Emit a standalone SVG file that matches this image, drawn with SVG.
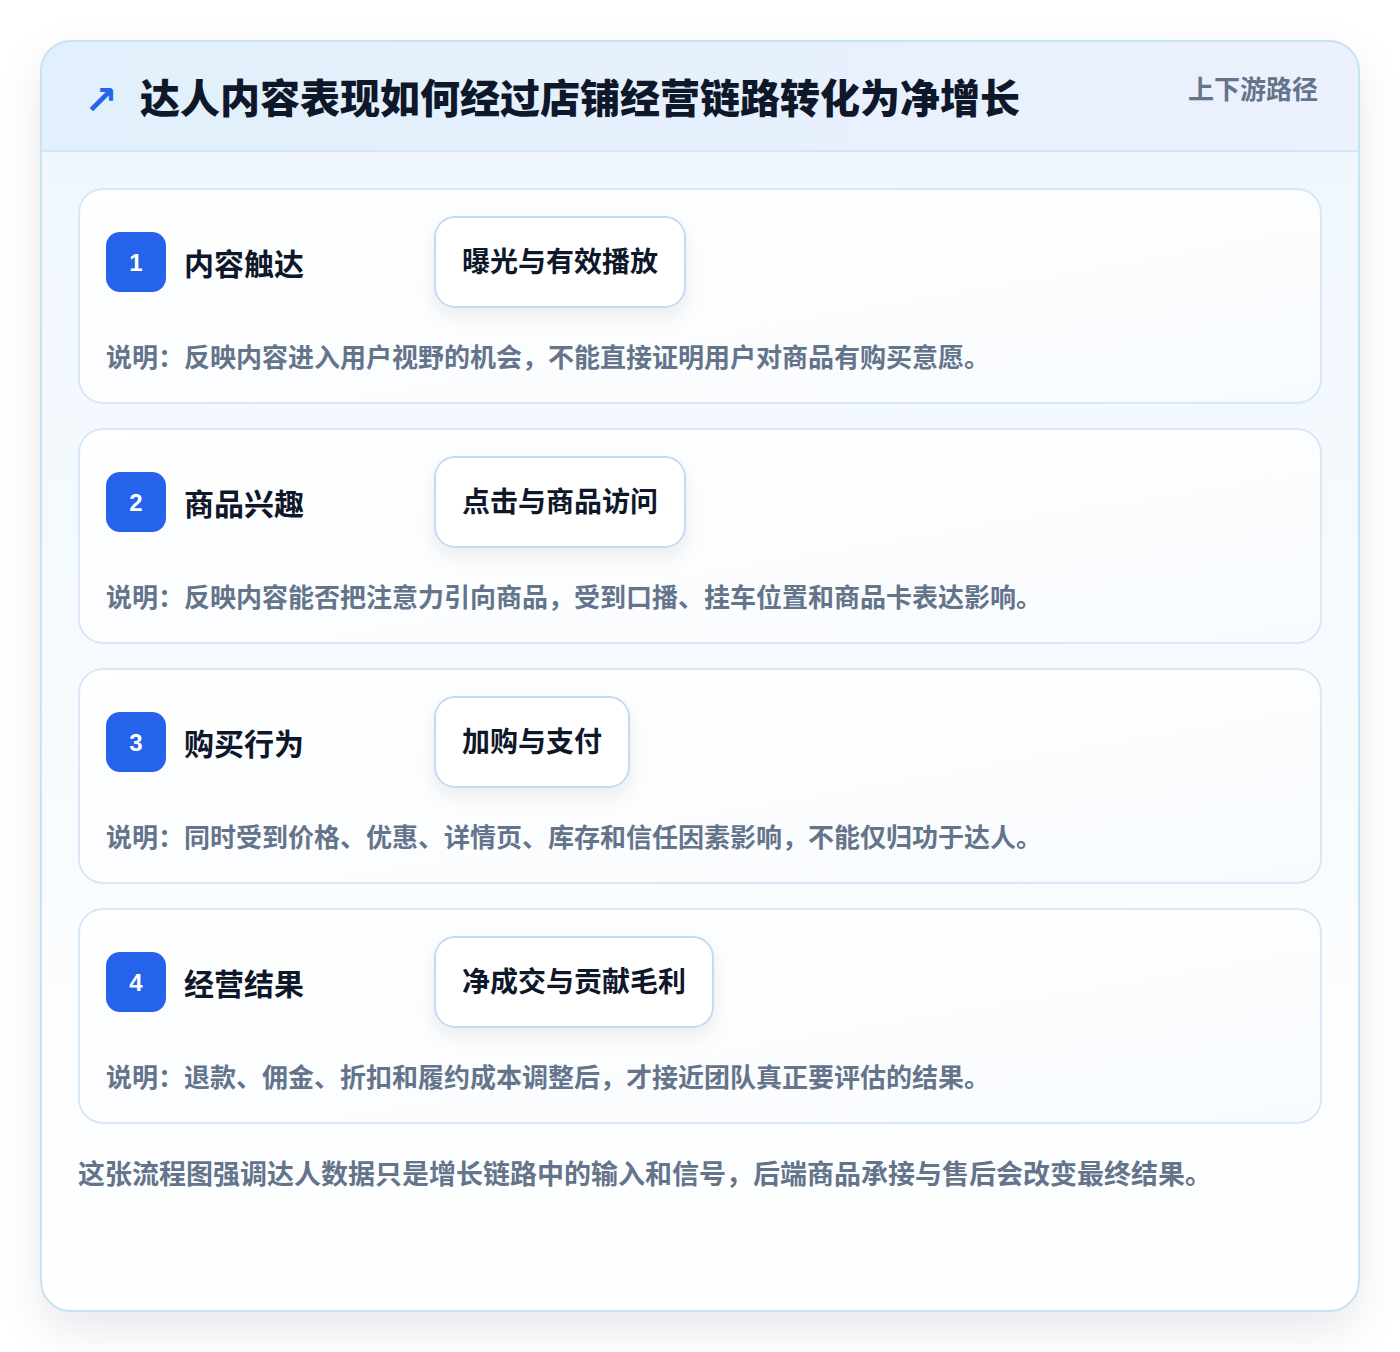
<svg xmlns="http://www.w3.org/2000/svg" width="1400" height="1352" viewBox="0 0 1400 1352">
  <defs>
    <linearGradient id="bodyGrad" x1="0" y1="0" x2="0" y2="1">
      <stop offset="0" stop-color="#eef6fd"/>
      <stop offset="1" stop-color="#ffffff"/>
    </linearGradient>
    <linearGradient id="headGrad" x1="0" y1="0" x2="1" y2="0">
      <stop offset="0" stop-color="#e1f0fc"/>
      <stop offset="1" stop-color="#ebf1fd"/>
    </linearGradient>
    <linearGradient id="cardGrad" x1="0" y1="0" x2="1" y2="1">
      <stop offset="0" stop-color="#ffffff"/>
      <stop offset="1" stop-color="#f8fbfe"/>
    </linearGradient>
    <filter id="outerShadow" x="-10%" y="-10%" width="120%" height="125%">
      <feDropShadow dx="0" dy="18" stdDeviation="22" flood-color="#0f172a" flood-opacity="0.09"/>
    </filter>
    <filter id="pillShadow" x="-20%" y="-30%" width="140%" height="180%">
      <feDropShadow dx="0" dy="8" stdDeviation="9" flood-color="#0f172a" flood-opacity="0.07"/>
    </filter>
    <clipPath id="outerClip">
      <rect x="41" y="41" width="1318" height="1270" rx="30"/>
    </clipPath>
    <style>
      .cjk { font-family: "Noto Sans CJK SC", "Noto Sans", sans-serif; font-weight: 700; }
      .title { font-size: 40px; fill: #0f172a; font-weight: 800; }
      .tag { font-size: 26px; fill: #64748b; }
      .card { fill: url(#cardGrad); stroke: #d9e8f8; stroke-width: 2; }
      .badge { fill: #2563eb; }
      .num { font-family: "Liberation Sans", "DejaVu Sans", sans-serif; font-weight: 700; font-size: 24px; fill: #ffffff; }
      .label { font-size: 30px; fill: #0f172a; }
      .pill { fill: #ffffff; stroke: #c3daf6; stroke-width: 2; }
      .pilltext { font-size: 28px; fill: #0f172a; }
      .desc { font-size: 26px; fill: #64748b; }
      .foot { font-size: 27px; fill: #64748b; }
    </style>
  </defs>

  <rect x="0" y="0" width="1400" height="1352" fill="#ffffff"/>

  <!-- outer card -->
  <g id="frame">
    <rect x="41" y="41" width="1318" height="1270" rx="30" fill="url(#bodyGrad)" filter="url(#outerShadow)"/>
    <g clip-path="url(#outerClip)">
      <rect x="41" y="41" width="1318" height="110" fill="url(#headGrad)"/>
      <line x1="41" y1="151" x2="1359" y2="151" stroke="#d4e6f6" stroke-width="2"/>
    </g>
    <rect x="41" y="41" width="1318" height="1270" rx="30" fill="none" stroke="#c6e3f6" stroke-width="2"/>
  </g>

  <g id="header">
    <text x="84" y="114" font-family="'DejaVu Sans', sans-serif" font-weight="700" font-size="40" fill="#2563eb">↗</text>
    <text class="cjk title" x="140" y="113">达人内容表现如何经过店铺经营链路转化为净增长</text>
    <text class="cjk tag" x="1318" y="99" text-anchor="end">上下游路径</text>
  </g>

  <g id="step1">
    <rect class="card" x="79" y="189" width="1242" height="214" rx="24"/>
    <rect class="badge" x="106" y="232" width="60" height="60" rx="14"/>
    <text class="num" x="136" y="271" text-anchor="middle">1</text>
    <text class="cjk label" x="184" y="275">内容触达</text>
    <rect class="pill" x="435" y="217" width="250" height="90" rx="20" filter="url(#pillShadow)"/>
    <text class="cjk pilltext" x="560" y="272" text-anchor="middle">曝光与有效播放</text>
    <text class="cjk desc" x="106" y="367">说明：反映内容进入用户视野的机会，不能直接证明用户对商品有购买意愿。</text>
  </g>

  <g id="step2">
    <rect class="card" x="79" y="429" width="1242" height="214" rx="24"/>
    <rect class="badge" x="106" y="472" width="60" height="60" rx="14"/>
    <text class="num" x="136" y="511" text-anchor="middle">2</text>
    <text class="cjk label" x="184" y="515">商品兴趣</text>
    <rect class="pill" x="435" y="457" width="250" height="90" rx="20" filter="url(#pillShadow)"/>
    <text class="cjk pilltext" x="560" y="512" text-anchor="middle">点击与商品访问</text>
    <text class="cjk desc" x="106" y="607">说明：反映内容能否把注意力引向商品，受到口播、挂车位置和商品卡表达影响。</text>
  </g>

  <g id="step3">
    <rect class="card" x="79" y="669" width="1242" height="214" rx="24"/>
    <rect class="badge" x="106" y="712" width="60" height="60" rx="14"/>
    <text class="num" x="136" y="751" text-anchor="middle">3</text>
    <text class="cjk label" x="184" y="755">购买行为</text>
    <rect class="pill" x="435" y="697" width="194" height="90" rx="20" filter="url(#pillShadow)"/>
    <text class="cjk pilltext" x="532" y="752" text-anchor="middle">加购与支付</text>
    <text class="cjk desc" x="106" y="847">说明：同时受到价格、优惠、详情页、库存和信任因素影响，不能仅归功于达人。</text>
  </g>

  <g id="step4">
    <rect class="card" x="79" y="909" width="1242" height="214" rx="24"/>
    <rect class="badge" x="106" y="952" width="60" height="60" rx="14"/>
    <text class="num" x="136" y="991" text-anchor="middle">4</text>
    <text class="cjk label" x="184" y="995">经营结果</text>
    <rect class="pill" x="435" y="937" width="278" height="90" rx="20" filter="url(#pillShadow)"/>
    <text class="cjk pilltext" x="574" y="992" text-anchor="middle">净成交与贡献毛利</text>
    <text class="cjk desc" x="106" y="1087">说明：退款、佣金、折扣和履约成本调整后，才接近团队真正要评估的结果。</text>
  </g>

  <g id="connectors"></g>

  <g id="footer">
    <text class="cjk foot" x="78" y="1184">这张流程图强调达人数据只是增长链路中的输入和信号，后端商品承接与售后会改变最终结果。</text>
  </g>
</svg>
